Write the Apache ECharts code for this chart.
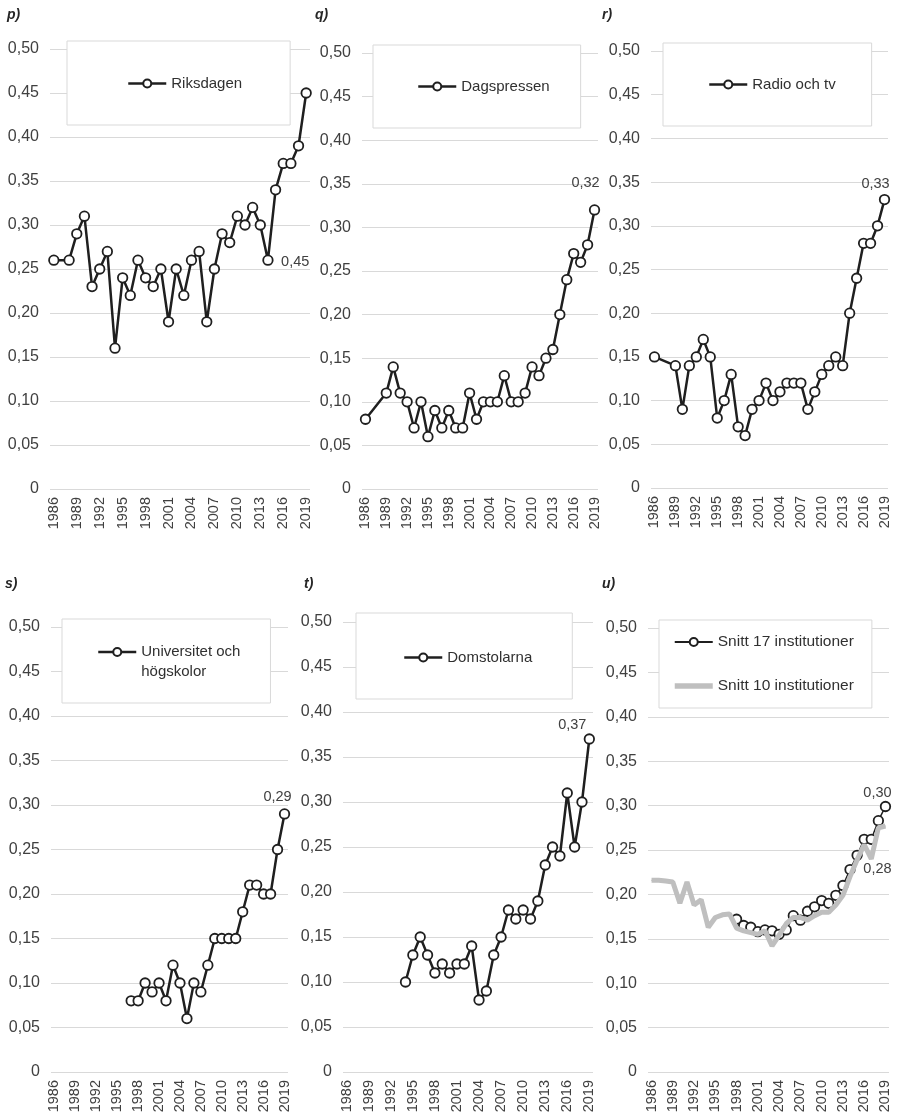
<!DOCTYPE html>
<html>
<head>
<meta charset="utf-8">
<script src="https://cdn.jsdelivr.net/npm/echarts@6/dist/echarts.min.js"></script>
<style>
html,body{margin:0;padding:0;background:#fff;}
#chart{width:897px;height:1118px;}
</style>
</head>
<body>
<div id="chart"></div>
<script>
const years = ['1986','1987','1988','1989','1990','1991','1992','1993','1994','1995','1996','1997','1998','1999','2000','2001','2002','2003','2004','2005','2006','2007','2008','2009','2010','2011','2012','2013','2014','2015','2016','2017','2018','2019'];

const riksdagen = [0.26,null,0.26,0.29,0.31,0.23,0.25,0.27,0.16,0.24,0.22,0.26,0.24,0.23,0.25,0.19,0.25,0.22,0.26,0.27,0.19,0.25,0.29,0.28,0.31,0.30,0.32,0.30,0.26,0.34,0.37,0.37,0.39,0.45];
const dagspressen = [0.08,null,null,0.11,0.14,0.11,0.10,0.07,0.10,0.06,0.09,0.07,0.09,0.07,0.07,0.11,0.08,0.10,0.10,0.10,0.13,0.10,0.10,0.11,0.14,0.13,0.15,0.16,0.20,0.24,0.27,0.26,0.28,0.32];
const radioTv = [0.15,null,null,0.14,0.09,0.14,0.15,0.17,0.15,0.08,0.10,0.13,0.07,0.06,0.09,0.10,0.12,0.10,0.11,0.12,0.12,0.12,0.09,0.11,0.13,0.14,0.15,0.14,0.20,0.24,0.28,0.28,0.30,0.33];
const universitet = [null,null,null,null,null,null,null,null,null,null,null,0.08,0.08,0.10,0.09,0.10,0.08,0.12,0.10,0.06,0.10,0.09,0.12,0.15,0.15,0.15,0.15,0.18,0.21,0.21,0.20,0.20,0.25,0.29];
const domstolarna = [null,null,null,null,null,null,null,null,0.10,0.13,0.15,0.13,0.11,0.12,0.11,0.12,0.12,0.14,0.08,0.09,0.13,0.15,0.18,0.17,0.18,0.17,0.19,0.23,0.25,0.24,0.31,0.25,0.30,0.37];
const snitt17 = [null,null,null,null,null,null,null,null,null,null,null,null,0.172,0.165,0.163,0.158,0.160,0.159,0.155,0.160,0.176,0.171,0.181,0.186,0.193,0.190,0.199,0.210,0.228,0.244,0.262,0.262,0.283,0.299];
const snitt10 = [0.216,0.216,0.215,0.214,0.190,0.214,0.188,0.194,0.163,0.174,0.177,0.178,0.162,0.159,0.157,0.155,0.159,0.142,0.154,0.167,0.174,0.174,0.171,0.176,0.180,0.180,0.188,0.199,0.220,0.239,0.256,0.240,0.275,0.277];

const panelTitles = ['p)','q)','r)','s)','t)','u)'];
const yTicks = {min:0, max:0.5, interval:0.05};

const fontFam = '"Liberation Sans", Arial, sans-serif';
const textCol = '#404040';

const grids = [
  {left:50, top:49, width:260, height:440},
  {left:362, top:53, width:236, height:436},
  {left:651, top:51, width:237, height:437},
  {left:51, top:627, width:237, height:445},
  {left:343, top:622, width:250, height:450},
  {left:648, top:628, width:241, height:444}
];
const titlePos = [[7,8],[315,8],[602,8],[5,577],[304,577],[602,577]];

function fmtNum(v){ return v === 0 ? '0' : v.toFixed(2).replace('.', ','); }

function withEndLabel(arr, text, offset){
  const last = arr.length - 1;
  return arr.map((v,i)=> i === last ? {value:v, label:{show:true, position:'inside', offset:offset, formatter:text, color:textCol, fontSize:14.5, fontFamily:fontFam}} : v);
}

const xAxes = grids.map((g,i)=>({
  type:'category', gridIndex:i, data:years, boundaryGap:true,
  axisLine:{show:false}, axisTick:{show:false},
  axisLabel:{interval:2, rotate:90, margin:8, color:textCol, fontSize:14.5, fontFamily:fontFam}
}));
const yAxes = grids.map((g,i)=>({
  type:'value', gridIndex:i, min:yTicks.min, max:yTicks.max, interval:yTicks.interval,
  axisLine:{show:false}, axisTick:{show:false},
  splitLine:{lineStyle:{color:'#d9d9d9', width:1}},
  axisLabel:{margin:11, color:textCol, fontSize:16, fontFamily:fontFam, formatter:fmtNum}
}));

function blackSeries(name, idx, data, lw){
  return {
    name:name, type:'line', xAxisIndex:idx, yAxisIndex:idx, data:data,
    connectNulls:true, showAllSymbol:true, symbol:'circle', symbolSize:9.5,
    lineStyle:{color:'#1f1f1f', width:lw},
    itemStyle:{color:'#ffffff', borderColor:'#1f1f1f', borderWidth:1.8},
    label:{show:false}, emphasis:{disabled:true}, z:3
  };
}

const series = [
  blackSeries('Riksdagen', 0, withEndLabel(riksdagen, '0,45', [-11, 169]), 2.5),
  blackSeries('Dagspressen', 1, withEndLabel(dagspressen, '0,32', [-9, -27]), 2.5),
  blackSeries('Radio och tv', 2, withEndLabel(radioTv, '0,33', [-9, -16]), 2.5),
  blackSeries('Universitet och högskolor', 3, withEndLabel(universitet, '0,29', [-7, -17]), 2.5),
  blackSeries('Domstolarna', 4, withEndLabel(domstolarna, '0,37', [-17, -14]), 2.5),
  blackSeries('Snitt 17 institutioner', 5, withEndLabel(snitt17, '0,30', [-8, -13]), 1.5),
  {
    name:'Snitt 10 institutioner', type:'line', xAxisIndex:5, yAxisIndex:5,
    data:withEndLabel(snitt10, '0,28', [-8, 43]),
    connectNulls:true, showSymbol:true, showAllSymbol:true, symbol:'circle', symbolSize:1,
    lineStyle:{color:'#bfbfbf', width:5},
    itemStyle:{color:'#bfbfbf'},
    emphasis:{disabled:true}, z:4
  }
];

const legendCommon = {
  backgroundColor:'#ffffff', borderColor:'#d9d9d9', borderWidth:1,
  itemWidth:38, itemHeight:10, itemGap:28, orient:'vertical',
  textStyle:{color:'#303030', fontSize:15, fontFamily:fontFam},
  lineStyle:{width:2.5},
  selectedMode:false
};
const legends = [
  Object.assign({}, legendCommon, {data:['Riksdagen'], left:67, top:41, padding:[35,48,34,60]}),
  Object.assign({}, legendCommon, {data:['Dagspressen'], left:373, top:45, padding:[34,31,34,44]}),
  Object.assign({}, legendCommon, {data:['Radio och tv'], left:663, top:43, padding:[34,36,34,45]}),
  Object.assign({}, legendCommon, {data:['Universitet och högskolor'], left:62, top:619, padding:[3,30,21,35],
     formatter:function(){ return '\nUniversitet och\nhögskolor'; },
     textStyle:{color:'#303030', fontSize:15, fontFamily:fontFam, lineHeight:20}}),
  Object.assign({}, legendCommon, {data:['Domstolarna'], left:356, top:613, padding:[37,40,34,47]}),
  Object.assign({}, legendCommon, {data:[
       {name:'Snitt 17 institutioner', lineStyle:{width:2}},
       {name:'Snitt 10 institutioner', itemStyle:{opacity:0}, lineStyle:{width:5.5}}
     ], left:659, top:620, padding:[14,18,14,13],
     textStyle:{color:'#303030', fontSize:15.5, fontFamily:fontFam}})
];

const titles = panelTitles.map((t,i)=>({
  text:t, left:titlePos[i][0], top:titlePos[i][1], padding:0,
  textStyle:{fontSize:14, fontWeight:'bold', fontStyle:'italic', color:'#262626', fontFamily:fontFam}
}));

const chart = echarts.init(document.getElementById('chart'), null, {renderer:'canvas'});
chart.setOption({
  animation:false,
  backgroundColor:'#ffffff',
  title:titles,
  grid:grids,
  xAxis:xAxes,
  yAxis:yAxes,
  legend:legends,
  series:series
});
</script>
</body>
</html>
